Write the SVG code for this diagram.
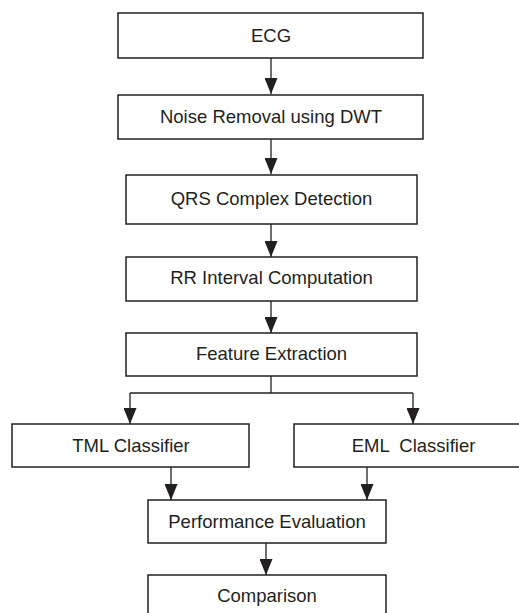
<svg xmlns="http://www.w3.org/2000/svg" width="519" height="613" viewBox="0 0 519 613">
<defs>
<style>
.box{fill:#fff;stroke:#231f20;stroke-width:1.5}
.lbl{font-family:"Liberation Sans",Arial,sans-serif;font-size:18.5px;fill:#231f20;text-anchor:middle}
.ln{fill:none;stroke:#231f20;stroke-width:1.3}
</style>
<marker id="ah" viewBox="0 0 16 13" refX="16" refY="6.5" markerWidth="16" markerHeight="13" markerUnits="userSpaceOnUse" orient="auto">
<path d="M0,0 L16,6.5 L0,13 z" fill="#231f20"/>
</marker>
</defs>
<rect width="519" height="613" fill="#fff"/>
<g id="connectors">
<line class="ln" x1="271" y1="58" x2="271" y2="94" marker-end="url(#ah)"/>
<line class="ln" x1="271" y1="139" x2="271" y2="174" marker-end="url(#ah)"/>
<line class="ln" x1="271" y1="224" x2="271" y2="257" marker-end="url(#ah)"/>
<line class="ln" x1="271" y1="301" x2="271" y2="333" marker-end="url(#ah)"/>
<polyline class="ln" points="271,376 271,393"/>
<polyline class="ln" points="130,393 413,393"/>
<line class="ln" x1="130" y1="393" x2="130" y2="424" marker-end="url(#ah)"/>
<line class="ln" x1="413" y1="393" x2="413" y2="424" marker-end="url(#ah)"/>
<line class="ln" x1="171" y1="467" x2="171" y2="500" marker-end="url(#ah)"/>
<line class="ln" x1="367" y1="467" x2="367" y2="500" marker-end="url(#ah)"/>
<line class="ln" x1="266" y1="543" x2="266" y2="575" marker-end="url(#ah)"/>
</g>
<g id="ecg"><rect class="box" x="118" y="13" width="305" height="45"/><text class="lbl" x="271" y="42">ECG</text></g>
<g id="noise"><rect class="box" x="118" y="95" width="305" height="44"/><text class="lbl" x="271" y="123">Noise Removal using DWT</text></g>
<g id="qrs"><rect class="box" x="126" y="175" width="291" height="49"/><text class="lbl" x="271.5" y="205">QRS Complex Detection</text></g>
<g id="rr"><rect class="box" x="126" y="257" width="291" height="44"/><text class="lbl" x="271.5" y="284">RR Interval Computation</text></g>
<g id="feature"><rect class="box" x="126" y="333" width="291" height="43"/><text class="lbl" x="271.5" y="360">Feature Extraction</text></g>
<g id="tml"><rect class="box" x="12" y="424" width="237" height="43"/><text class="lbl" x="131" y="452">TML Classifier</text></g>
<g id="eml"><rect class="box" x="294" y="424" width="239" height="43"/><text class="lbl" x="413.5" y="452" xml:space="preserve">EML  Classifier</text></g>
<g id="performance"><rect class="box" x="148" y="500" width="238" height="43"/><text class="lbl" x="267" y="528">Performance Evaluation</text></g>
<g id="comparison"><rect class="box" x="148" y="575" width="238" height="45"/><text class="lbl" x="267" y="602">Comparison</text></g>
</svg>
